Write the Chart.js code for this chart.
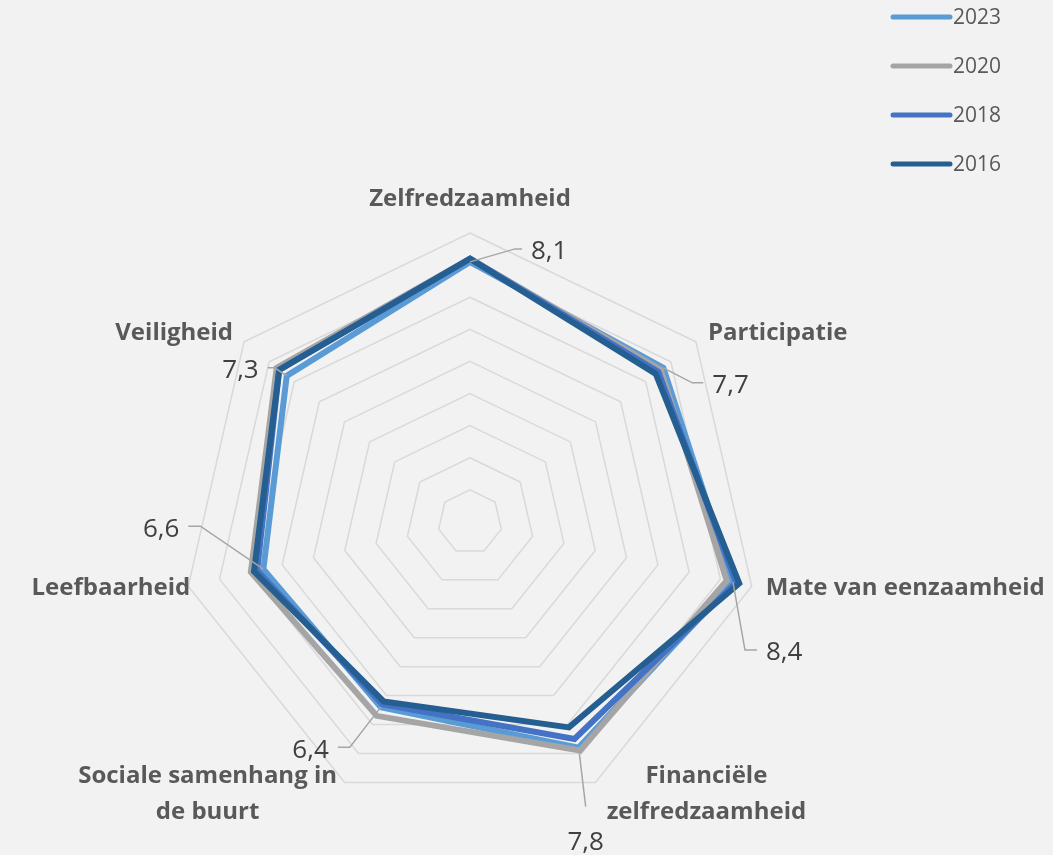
<!DOCTYPE html>
<html>
<head>
<meta charset="utf-8">
<script src="https://cdn.jsdelivr.net/npm/chart.js@4"></script>
<style>
  html, body { margin: 0; background: #f2f2f2; }
  canvas { display: block; }
</style>
</head>
<body>
<canvas id="radar" width="1053" height="855"></canvas>
<script>
"use strict";
/* Radar chart: scores per theme, four survey years. Labels only for 2023. */

const categories = ["Zelfredzaamheid", "Participatie", "Mate van eenzaamheid",
  ["Financiële", "zelfredzaamheid"], ["Sociale samenhang in", "de buurt"], "Leefbaarheid", "Veiligheid"];
const years = ["2023", "2020", "2018", "2016"];
const values2023 = [8.1, 7.7, 8.4, 7.8, 6.4, 6.6, 7.3];
const values2020 = [8.2, 7.6, 8.2, 7.9, 6.7, 7.0, 7.7];
const values2018 = [8.2, 7.5, 8.5, 7.5, 6.3, 6.8, 7.6];
const values2016 = [8.2, 7.4, 8.6, 7.1, 6.2, 6.9, 7.6];
const scaleMin = 0, scaleMax = 9, scaleStep = 1;

const FONT = '"Open Sans", "Noto Sans", sans-serif';
const colors = { "2023": "#5b9bd5", "2020": "#a5a5a5", "2018": "#4472c4", "2016": "#255e91" };

/* ---------------- custom drawing ---------------- */
// axis-name offsets from the outer ring vertex: [dx, dy, align]
const axisLabelPos = [
  [0, -34, "center"], [12, -9, "left"], [14, 2, "left"], [111, -6, "center"],
  [-137, -6, "center"], [2, 2, "right"], [-11, -9, "right"],
];
// leader lines from the 2023 point: [elbow dx, elbow dy, tail dx, side]
const leaders = [
  [45, -13, 7, "left"], [29, 15, 11, "left"], [12, 68, 12, "left"], [7, 59, 0, "below"],
  [-31, 40, -12, "right"], [-63, -43, -12, "right"], [-12, -8, -7, "right"],
];
const fmt = (v) => v.toFixed(1).replace(".", ",");

const decorations = {
  id: "decorations",
  afterDatasetsDraw(chart) {
    const ctx = chart.ctx, r = chart.scales.r;
    ctx.save();
    // axis names
    ctx.fillStyle = "#595959";
    ctx.font = "bold 24px " + FONT;
    ctx.textBaseline = "middle";
    categories.forEach((lab, i) => {
      const p = r.getPointPosition(i, r.drawingArea);
      const [dx, dy, align] = axisLabelPos[i];
      ctx.textAlign = align;
      const lines = Array.isArray(lab) ? lab : [lab];
      lines.forEach((t, k) => ctx.fillText(t, p.x + dx, p.y + dy + k * 36));
    });
    // data labels for 2023 with leader lines
    const meta = chart.getDatasetMeta(0);
    ctx.strokeStyle = "#a6a6a6"; ctx.lineWidth = 1.5;
    ctx.fillStyle = "#404040"; ctx.font = "26px " + FONT;
    meta.data.forEach((pt, i) => {
      const [ex, ey, tx, side] = leaders[i];
      const e = { x: pt.x + ex, y: pt.y + ey }, end = { x: e.x + tx, y: e.y };
      ctx.beginPath(); ctx.moveTo(pt.x, pt.y); ctx.lineTo(e.x, e.y); ctx.lineTo(end.x, end.y); ctx.stroke();
      const txt = fmt(values2023[i]);
      if (side === "left") { ctx.textAlign = "left"; ctx.fillText(txt, end.x + 9, end.y + 3); }
      else if (side === "right") { ctx.textAlign = "right"; ctx.fillText(txt, end.x - 9, end.y + 3); }
      else { ctx.textAlign = "center"; ctx.fillText(txt, end.x, end.y + 36); }
    });
    // legend, top right
    ctx.font = "21px " + FONT; ctx.fillStyle = "#595959"; ctx.textAlign = "left";
    ctx.lineWidth = 5; ctx.lineCap = "round";
    years.forEach((y, k) => {
      const yy = 17 + k * 49;
      ctx.strokeStyle = colors[y];
      ctx.beginPath(); ctx.moveTo(893, yy); ctx.lineTo(950, yy); ctx.stroke();
      ctx.fillText(y, 953, yy + 1);
    });
    ctx.restore();
  },
};

const series = [values2023, values2020, values2018, values2016];
new Chart(document.getElementById("radar"), {
  type: "radar",
  data: {
    labels: categories,
    datasets: years.map((y, k) => ({
      label: y, data: series[k], borderColor: colors[y], backgroundColor: "transparent",
      borderWidth: 6, pointRadius: 0, fill: false, tension: 0, borderJoinStyle: "miter",
      order: years.length - 1 - k,   // 2016 on top, as in the original
    })),
  },
  options: {
    responsive: false, animation: false,
    layout: { padding: { left: 181, right: 294, top: 233, bottom: 44 } },
    plugins: { legend: { display: false }, tooltip: { enabled: false } },
    scales: {
      r: {
        min: scaleMin, max: scaleMax,
        ticks: { stepSize: scaleStep, display: false },
        grid: { color: "#d9d9d9", lineWidth: 1.5 },
        angleLines: { display: false },
        pointLabels: { display: false },
      },
    },
  },
  plugins: [decorations],
});
</script>
</body>
</html>
